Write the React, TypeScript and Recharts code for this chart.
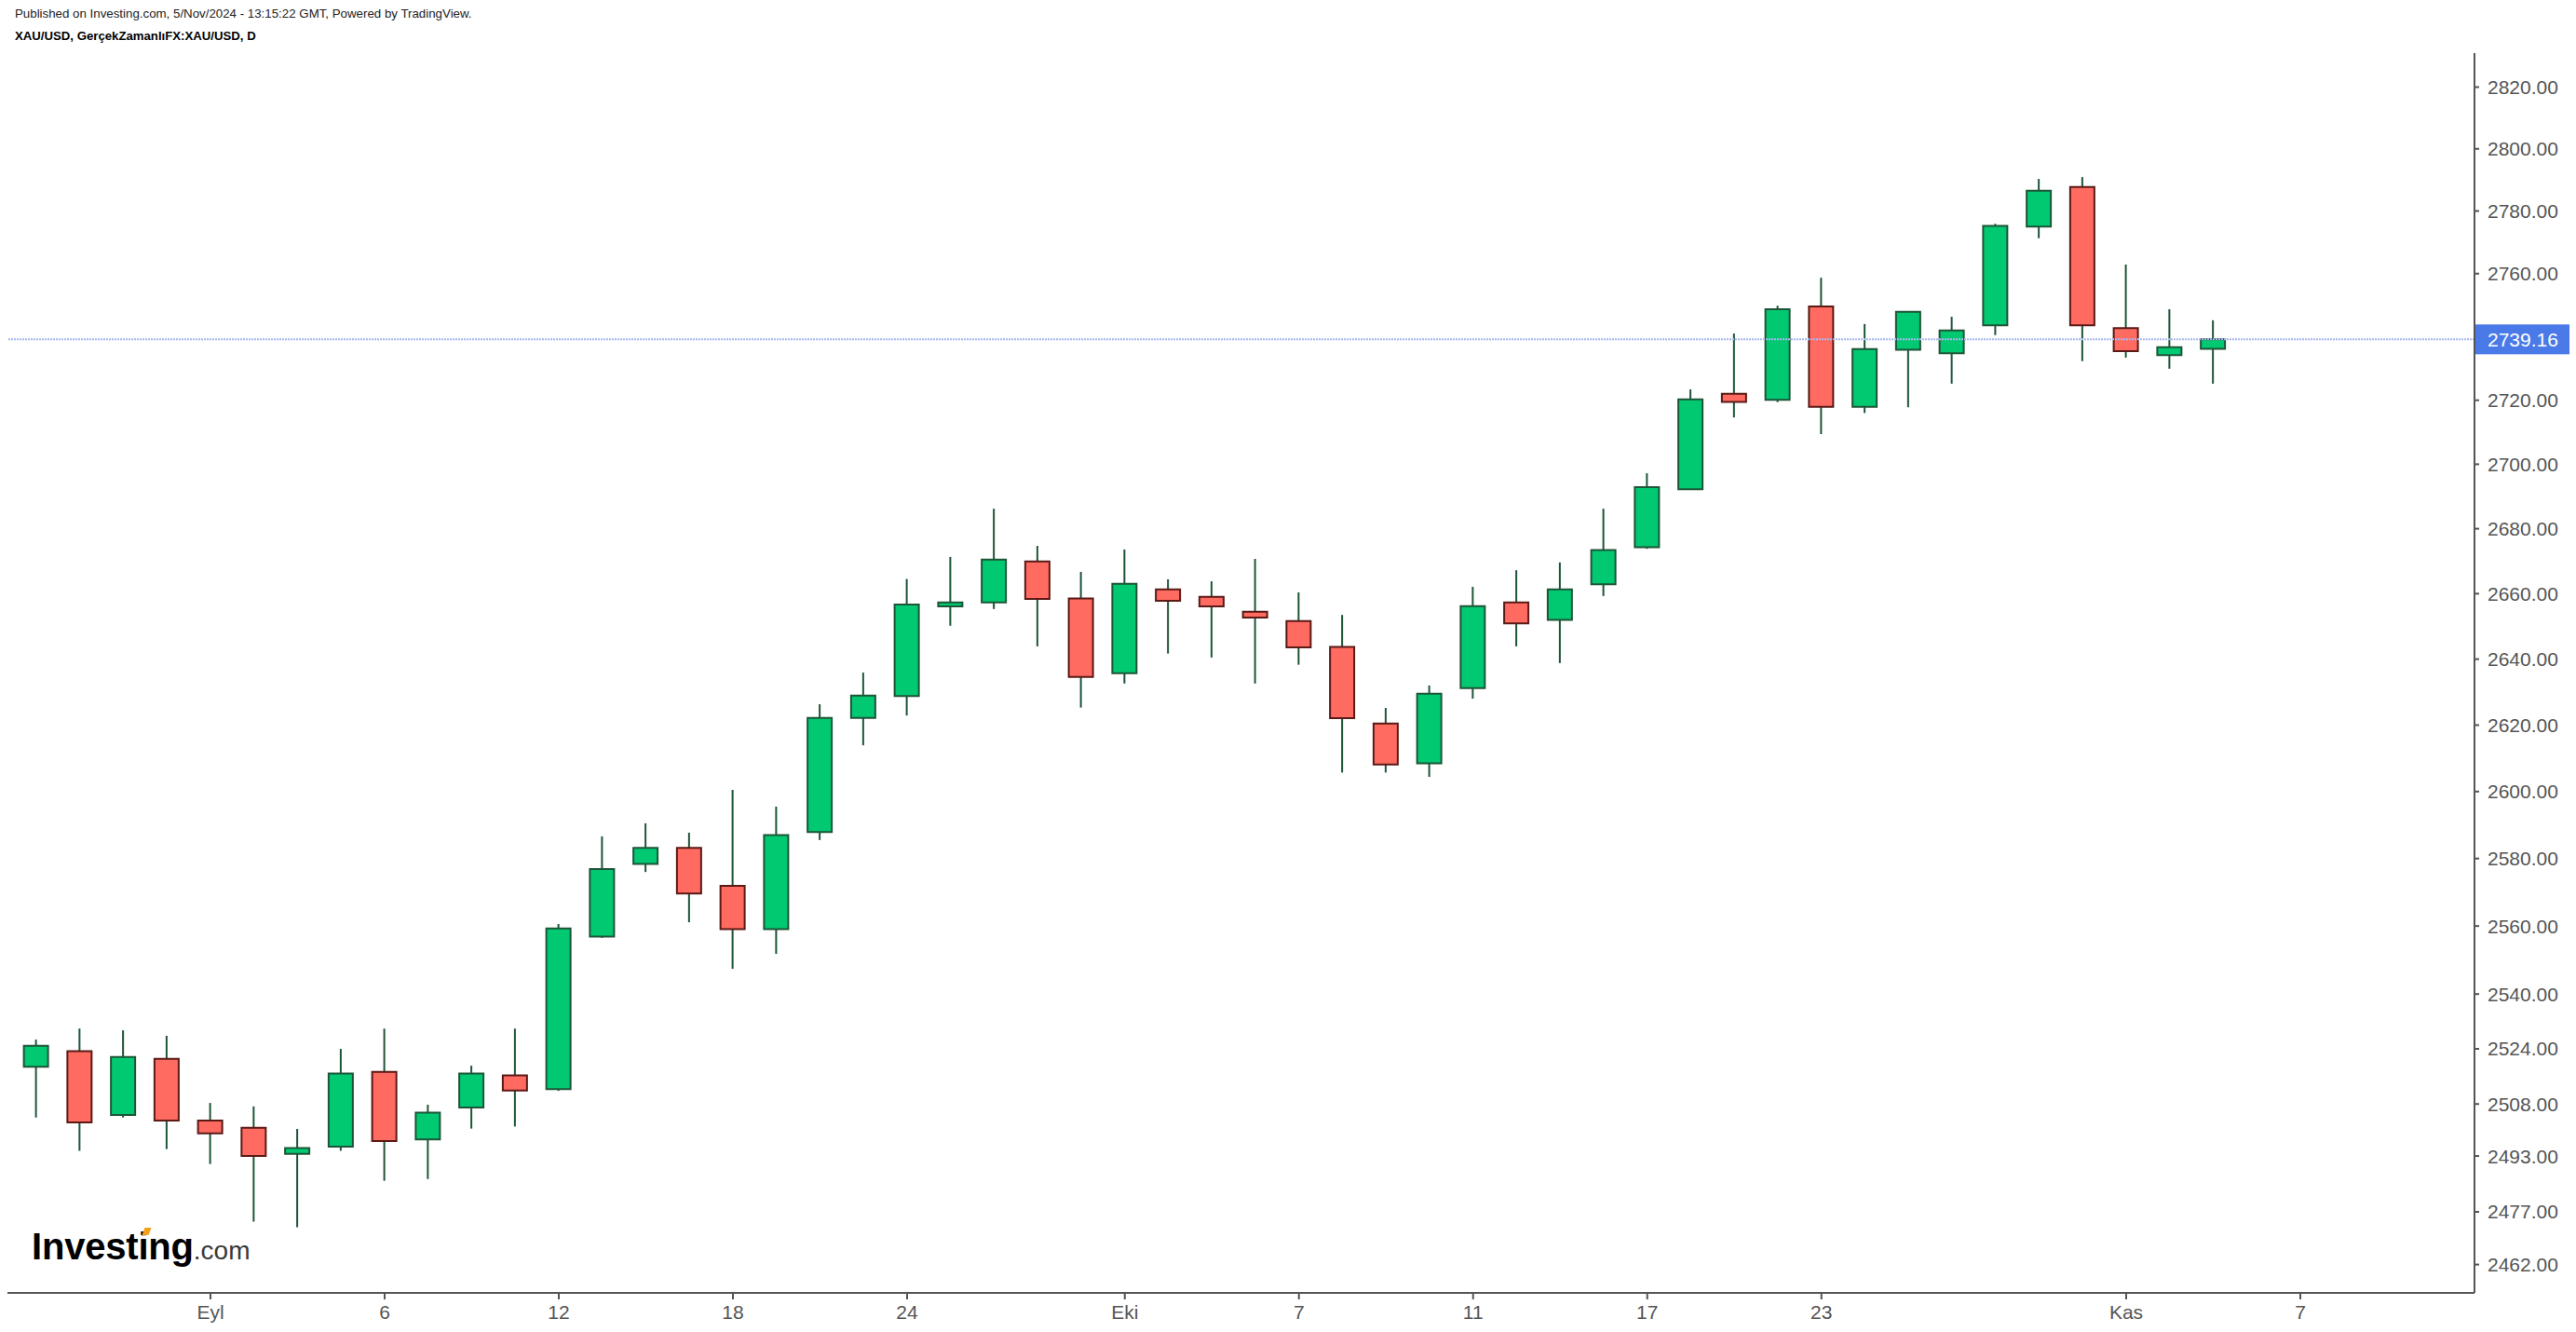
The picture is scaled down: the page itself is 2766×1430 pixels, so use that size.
import React from 'react';
import { ComposedChart, Bar, Cell, XAxis, YAxis, ReferenceLine } from 'recharts';

// trading sessions (the last two are empty future slots on the axis)
const sessions = [
  '2024-08-27', '2024-08-28', '2024-08-29', '2024-08-30',
  '2024-09-02', '2024-09-03', '2024-09-04', '2024-09-05', '2024-09-06',
  '2024-09-09', '2024-09-10', '2024-09-11', '2024-09-12', '2024-09-13',
  '2024-09-16', '2024-09-17', '2024-09-18', '2024-09-19', '2024-09-20',
  '2024-09-23', '2024-09-24', '2024-09-25', '2024-09-26', '2024-09-27',
  '2024-09-30', '2024-10-01', '2024-10-02', '2024-10-03', '2024-10-04',
  '2024-10-07', '2024-10-08', '2024-10-09', '2024-10-10', '2024-10-11',
  '2024-10-14', '2024-10-15', '2024-10-16', '2024-10-17', '2024-10-18',
  '2024-10-21', '2024-10-22', '2024-10-23', '2024-10-24', '2024-10-25',
  '2024-10-28', '2024-10-29', '2024-10-30', '2024-10-31', '2024-11-01',
  '2024-11-04', '2024-11-05', '2024-11-06', '2024-11-07',
];

const opens = [
  2518.8, 2523.3, 2504.8, 2521.1, 2503.2, 2501.1, 2493.6, 2495.7, 2517.3, 2497.8,
  2507.0, 2516.3, 2512.3, 2556.9, 2578.4, 2583.2, 2571.9, 2559.1, 2587.9, 2622.2,
  2628.8, 2656.1, 2657.3, 2669.9, 2658.5, 2635.7, 2661.3, 2659.0, 2654.5, 2651.6,
  2643.7, 2620.5, 2608.5, 2631.2, 2657.3, 2652.0, 2662.9, 2674.3, 2692.2, 2722.0,
  2720.1, 2749.6, 2717.9, 2735.9, 2734.8, 2743.6, 2775.0, 2787.7, 2742.7, 2734.2,
  2736.2,
];
const highs = [
  2526.7, 2529.9, 2529.4, 2527.8, 2508.3, 2507.3, 2500.8, 2524.0, 2529.9, 2507.8,
  2519.1, 2529.9, 2560.6, 2586.6, 2590.5, 2587.7, 2600.5, 2595.5, 2626.3, 2635.9,
  2664.5, 2671.3, 2686.2, 2674.7, 2666.7, 2673.6, 2664.4, 2663.8, 2670.7, 2660.4,
  2653.5, 2625.2, 2632.0, 2662.1, 2667.2, 2669.6, 2686.2, 2697.2, 2723.4, 2741.0,
  2749.8, 2758.7, 2744.0, 2748.0, 2746.3, 2775.9, 2790.3, 2790.9, 2762.9, 2748.7,
  2745.2,
];
const lows = [
  2504.1, 2494.5, 2504.1, 2495.0, 2490.7, 2474.2, 2472.6, 2494.5, 2485.9, 2486.4,
  2500.9, 2501.5, 2511.8, 2556.5, 2576.0, 2561.1, 2547.4, 2551.8, 2585.5, 2613.9,
  2622.9, 2650.2, 2655.3, 2643.9, 2625.3, 2632.6, 2641.7, 2640.5, 2632.6, 2638.3,
  2605.7, 2605.7, 2604.4, 2628.0, 2643.9, 2638.8, 2659.3, 2673.8, 2692.0, 2714.6,
  2719.4, 2709.4, 2716.0, 2717.8, 2725.2, 2740.5, 2771.3, 2732.3, 2733.4, 2729.9,
  2725.2,
];
const closes = [
  2524.9, 2502.7, 2521.6, 2503.2, 2499.5, 2493.0, 2495.3, 2516.8, 2497.3, 2505.5,
  2516.8, 2511.9, 2559.3, 2576.9, 2583.2, 2569.6, 2559.1, 2587.0, 2622.2, 2628.9,
  2656.7, 2657.3, 2670.5, 2658.4, 2634.6, 2663.0, 2657.8, 2656.1, 2652.7, 2643.6,
  2622.1, 2608.1, 2629.5, 2656.2, 2650.9, 2661.3, 2673.4, 2692.9, 2720.3, 2719.5,
  2748.7, 2717.9, 2736.1, 2747.9, 2742.0, 2775.2, 2786.5, 2743.6, 2735.4, 2736.7,
  2739.2,
];

const lastPrice = 2739.16;

const priceTicks = [
  2462, 2477, 2493, 2508, 2524, 2540, 2560, 2580, 2600, 2620, 2640, 2660, 2680,
  2700, 2720, 2760, 2780, 2800, 2820,
];

const tickSessions = [
  '2024-09-02', '2024-09-06', '2024-09-12', '2024-09-18', '2024-09-24', '2024-10-01',
  '2024-10-07', '2024-10-11', '2024-10-17', '2024-10-23', '2024-11-01', '2024-11-07',
];
const tickLabels = ['Eyl', '6', '12', '18', '24', 'Eki', '7', '11', '17', '23', 'Kas', '7'];

const UP_FILL = '#00c972';
const UP_EDGE = '#1d5537';
const DOWN_FILL = '#ff6a61';
const DOWN_EDGE = '#5a1a16';
const WICK = '#1d5537';
const AXIS = '#555555';
const FONT = '"Liberation Sans", Arial, Helvetica, sans-serif';

const rows = opens.map((o, i) => ({
  i,
  date: sessions[i],
  o,
  h: highs[i],
  l: lows[i],
  c: closes[i],
  wick: [lows[i], highs[i]],
  body: [Math.min(o, closes[i]), Math.max(o, closes[i])],
}));

const xTicks = tickSessions.map((d) => sessions.indexOf(d));
const xDomain = [-0.663, 56.0];

function PriceTag(props: any) {
  const vb = props.viewBox || {};
  const x = vb.x + vb.width;
  const y = vb.y;
  return (
    <g>
      <rect x={x} y={y - 16} width={102} height={32} fill="#4a7ae8" />
      <text x={x + 14} y={y} dy="0.36em" fill="#ffffff" fontSize={21} fontFamily={FONT}>
        {lastPrice.toFixed(2)}
      </text>
    </g>
  );
}

export default function App() {
  return (
    <div style={{ position: 'absolute', left: 0, top: 0, width: 2766, height: 1430, background: '#fff', overflow: 'hidden' }}>
      <div style={{ position: 'absolute', left: 16, top: 7, fontFamily: FONT, fontSize: 13.3, lineHeight: '16px', color: '#222', whiteSpace: 'nowrap' }}>
        Published on Investing.com, 5/Nov/2024 - 13:15:22 GMT, Powered by TradingView.
      </div>
      <div style={{ position: 'absolute', left: 16, top: 30, fontFamily: FONT, fontSize: 13.2, lineHeight: '17px', fontWeight: 700, color: '#000', whiteSpace: 'nowrap' }}>
        XAU/USD, GerçekZamanlıFX:XAU/USD, D
      </div>

      <ComposedChart width={2766} height={1430} data={rows} margin={{ top: 57, right: 0, bottom: 0, left: 8 }}>
        <XAxis
          xAxisId="body"
          type="number"
          dataKey="i"
          domain={xDomain}
          allowDataOverflow
          ticks={xTicks}
          interval={0}
          tickFormatter={(v: number) => tickLabels[xTicks.indexOf(v)] ?? ''}
          height={42}
          tickSize={7}
          tickMargin={6}
          axisLine={{ stroke: AXIS, strokeWidth: 2 }}
          tickLine={{ stroke: AXIS, strokeWidth: 2 }}
          tick={{ fill: AXIS, fontSize: 21, fontFamily: FONT }}
        />
        <XAxis xAxisId="wick" type="number" dataKey="i" domain={xDomain} allowDataOverflow hide />
        <YAxis
          orientation="right"
          scale="log"
          domain={[2453.97, 2831.08]}
          allowDataOverflow
          ticks={priceTicks}
          interval={0}
          width={109}
          tickSize={5}
          tickMargin={9}
          tickFormatter={(v: number) => v.toFixed(2)}
          axisLine={{ stroke: AXIS, strokeWidth: 2 }}
          tickLine={{ stroke: AXIS, strokeWidth: 2 }}
          tick={{ fill: AXIS, fontSize: 21, fontFamily: FONT }}
        />
        <Bar xAxisId="wick" dataKey="wick" barSize={2} fill={WICK} isAnimationActive={false} />
        <Bar xAxisId="body" dataKey="body" barSize={26} strokeWidth={2} isAnimationActive={false}>
          {rows.map((r) => (
            <Cell
              key={r.date}
              fill={r.c >= r.o ? UP_FILL : DOWN_FILL}
              stroke={r.c >= r.o ? UP_EDGE : DOWN_EDGE}
            />
          ))}
        </Bar>
        <ReferenceLine
          xAxisId="body"
          y={lastPrice}
          stroke="#a9b8f1"
          strokeWidth={2}
          strokeDasharray="2 1"
          label={<PriceTag />}
        />
      </ComposedChart>

      <div style={{ position: 'absolute', left: 34, top: 1314, fontFamily: FONT, whiteSpace: 'nowrap', lineHeight: '48px' }}>
        <span style={{ fontSize: 40, fontWeight: 700, color: '#000', letterSpacing: -0.2 }}>Investing</span>
        <span style={{ fontSize: 28, color: '#3a3a3a' }}>.com</span>
      </div>
      <div style={{ position: 'absolute', left: 154, top: 1318, width: 7, height: 8, background: '#f5a01a', transform: 'skewX(-20deg)' }} />
    </div>
  );
}
